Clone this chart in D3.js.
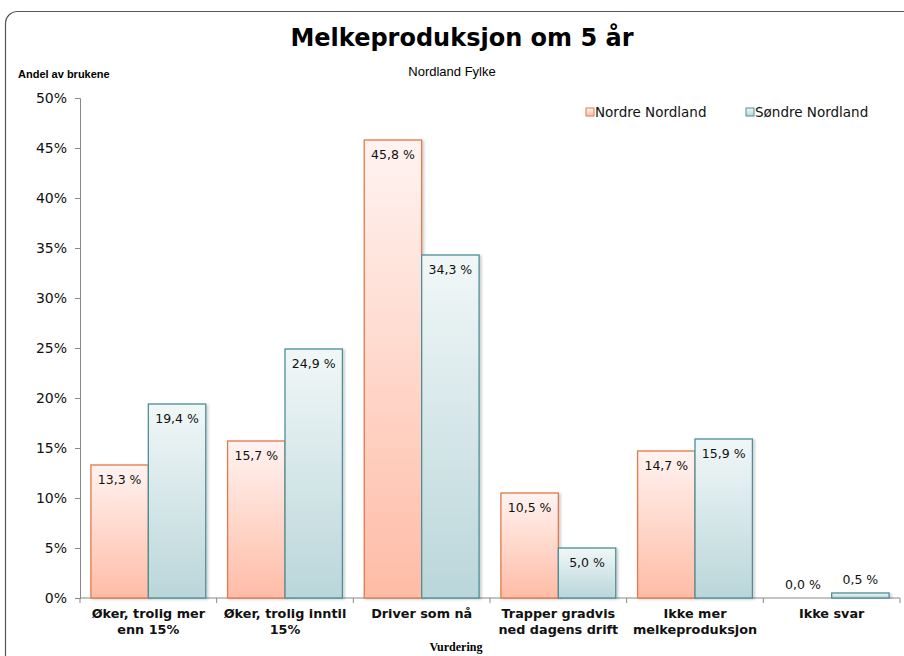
<!DOCTYPE html>
<html><head><meta charset="utf-8">
<script src="https://cdn.jsdelivr.net/npm/d3@7"></script>
<style>body{margin:0;background:#fff}svg{display:block}</style>
</head><body>
<script>
const categories = [["Øker, trolig mer","enn 15%"],["Øker, trolig inntil","15%"],["Driver som nå"],["Trapper gradvis","ned dagens drift"],["Ikke mer","melkeproduksjon"],["Ikke svar"]];
const seriesNames = ["Nordre Nordland","Søndre Nordland"];
const nordre = [13.3, 15.7, 45.8, 10.5, 14.7, 0.0];
const sondre = [19.4, 24.9, 34.3, 5.0, 15.9, 0.5];
const yTicks = [0,5,10,15,20,25,30,35,40,45,50];

const W=904,H=656;
const svg=d3.select("body").append("svg").attr("width",W).attr("height",H);
const defs=svg.append("defs");
const gO=defs.append("linearGradient").attr("id","gO").attr("x1",0).attr("y1",0).attr("x2",0).attr("y2",1);
gO.append("stop").attr("offset","0%").attr("stop-color","#fff3f1");
gO.append("stop").attr("offset","100%").attr("stop-color","#ffbca6");
const gT=defs.append("linearGradient").attr("id","gT").attr("x1",0).attr("y1",0).attr("x2",0).attr("y2",1);
gT.append("stop").attr("offset","0%").attr("stop-color","#f1f7f7");
gT.append("stop").attr("offset","100%").attr("stop-color","#bad6da");
const sh=defs.append("filter").attr("id","sh").attr("x","-10%").attr("y","-10%").attr("width","130%").attr("height","130%");
sh.append("feDropShadow").attr("dx",2).attr("dy",1).attr("stdDeviation",1.2).attr("flood-color","#000").attr("flood-opacity",0.18);

svg.append("rect").attr("x",5.5).attr("y",11.5).attr("width",940).attr("height",700).attr("rx",12)
  .attr("fill","#fff").attr("stroke","#555").attr("stroke-width",1.2);

const x0=80,x1=900,yTop=98,yBot=598;
const x=d3.scaleBand().domain(d3.range(categories.length)).range([x0,x1]).paddingInner(0).paddingOuter(0);
const y=d3.scaleLinear().domain([0,50]).range([yBot,yTop]);

svg.append("text").attr("x",462).attr("y",46).attr("text-anchor","middle")
  .attr("font-family","DejaVu Sans, Verdana, sans-serif").attr("font-weight","bold").attr("font-size",24).text("Melkeproduksjon om 5 år");
svg.append("text").attr("x",452).attr("y",76).attr("text-anchor","middle")
  .attr("font-family","Liberation Sans, Arial, sans-serif").attr("font-size",13).text("Nordland Fylke");
svg.append("text").attr("x",18).attr("y",78)
  .attr("font-family","Liberation Sans, Arial, sans-serif").attr("font-weight","bold").attr("font-size",11).text("Andel av brukene");

// y axis
const ya=svg.append("g").attr("transform",`translate(${x0},0)`).call(d3.axisLeft(y).tickValues(yTicks).tickSize(5).tickFormat(d=>d+"%"));
ya.select(".domain").attr("stroke","#888");
ya.selectAll(".tick line").attr("stroke","#888");
ya.selectAll("text").attr("font-family","DejaVu Sans, Verdana, sans-serif").attr("font-size",14).attr("fill","#111").attr("x",-13);

// x axis
const xa=svg.append("g").attr("transform",`translate(0,${yBot})`);
xa.append("line").attr("x1",x0).attr("x2",x1).attr("stroke","#888");
d3.range(categories.length+1).forEach(i=>{
  const xx=i<categories.length?x(i):x1;
  xa.append("line").attr("x1",xx).attr("x2",xx).attr("y1",0).attr("y2",5).attr("stroke","#888");
});
categories.forEach((c,i)=>{
  const t=xa.append("text").attr("x",x(i)+x.bandwidth()/2).attr("y",20).attr("text-anchor","middle")
    .attr("font-family","DejaVu Sans, Verdana, sans-serif").attr("font-weight","bold").attr("font-size",12.8).attr("fill","#111");
  c.forEach((l,j)=>t.append("tspan").attr("x",x(i)+x.bandwidth()/2).attr("dy",j?16:0).text(l));
});
svg.append("text").attr("x",456).attr("y",651).attr("text-anchor","middle")
  .attr("font-family","Liberation Serif, Times New Roman, serif").attr("font-weight","bold").attr("font-size",12).text("Vurdering");

const inner=d3.scaleBand().domain([0,1]).range([0,x.bandwidth()]).paddingOuter(0.19).paddingInner(0);
const series=[{v:nordre,fill:"url(#gO)",stroke:"#e2794a"},{v:sondre,fill:"url(#gT)",stroke:"#4d8f98"}];
series.forEach((s,si)=>{
  s.v.forEach((v,i)=>{
    const bx=x(i)+inner(si), bw=inner.bandwidth();
    if(v>0) svg.append("rect").attr("x",bx).attr("y",y(v)).attr("width",bw).attr("height",yBot-y(v))
      .attr("fill",s.fill).attr("stroke",s.stroke).attr("stroke-width",1.3).attr("filter","url(#sh)");
  });
});
series.forEach((s,si)=>{
  s.v.forEach((v,i)=>{
    const bx=x(i)+inner(si), bw=inner.bandwidth();
    const h=yBot-y(v);
    const ly= h>25 ? y(v)+19 : y(v)-9;
    svg.append("text").attr("x",bx+bw/2).attr("y",ly).attr("text-anchor","middle")
      .attr("font-family","DejaVu Sans, Verdana, sans-serif").attr("font-size",12.5).attr("fill","#111")
      .text(v.toFixed(1).replace(".",",")+" %");
  });
});

// legend
const lx=[586,746];
seriesNames.forEach((n,i)=>{
  svg.append("rect").attr("x",lx[i]).attr("y",108).attr("width",8).attr("height",8)
    .attr("fill",series[i].fill).attr("stroke",series[i].stroke).attr("stroke-width",1);
  svg.append("text").attr("x",lx[i]+9).attr("y",117).attr("font-family","DejaVu Sans, Verdana, sans-serif")
    .attr("font-size",13.5).attr("fill","#111").text(n);
});
</script>
</body></html>
